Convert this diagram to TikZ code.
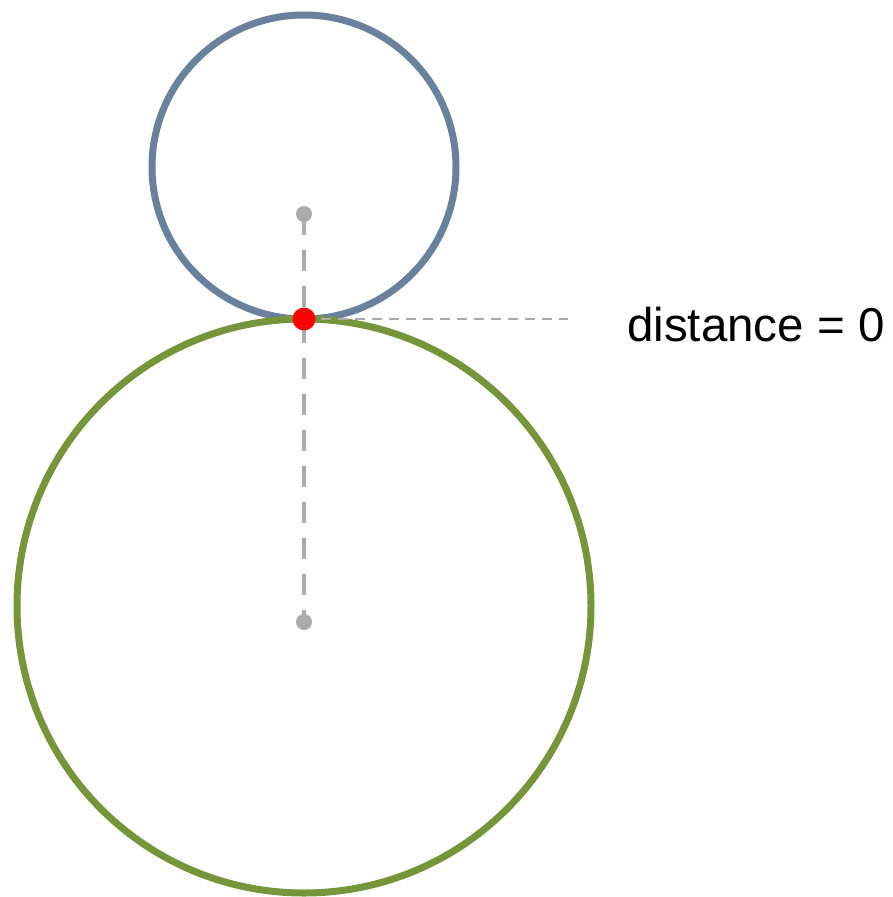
\documentclass[tikz,border=0pt]{standalone}
\usepackage{xcolor}
\usepackage{fontspec}
\setmainfont{Liberation Sans}
\usepackage{tikz}
\usetikzlibrary{positioning, calc}
\definecolor{ringblue}{HTML}{6A819E}
\definecolor{ringgreen}{HTML}{76943A}
\definecolor{guidegray}{HTML}{AAAAAA}

\tikzset{
  ring/.style={line width=7pt},
  centerdot/.style={circle, fill=guidegray, inner sep=0pt, minimum size=16pt},
  touchdot/.style={circle, fill=red, inner sep=0pt, minimum size=23pt},
  axisline/.style={guidegray, line width=4.5pt, dash pattern=on 21pt off 15pt},
  leaderline/.style={guidegray, line width=2pt, dash pattern=on 10pt off 7pt}
}

\begin{document}
\begin{tikzpicture}[x=1pt, y=-1pt]
    \useasboundingbox (0,0) rectangle (893,897);
    % the two circles
    \draw[ring, ringblue] (304,167) circle (152pt);
    \draw[ring, ringgreen] (304,606) circle (287pt);

    \node[centerdot] (smalldot) at (304,214) {};
    \node[centerdot] (bigdot) at (304,622) {};
    \coordinate (leaderend) at (568,319);

    \draw[axisline] (smalldot.center) -- (bigdot.center);
    \draw[leaderline] (304,319) -- (leaderend);

    \node[touchdot] (touch) at (304,319) {};
    \node[anchor=base west, inner sep=0pt, font=\fontsize{47.5}{54}\selectfont]
      (distlabel) at (627,341) {distance = 0};
  \end{tikzpicture}
\end{document}
